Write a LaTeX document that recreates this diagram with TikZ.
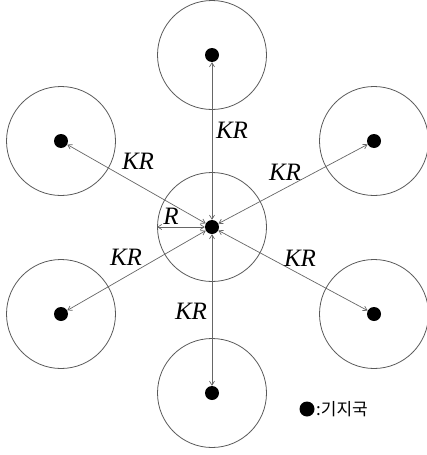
\documentclass[tikz,border=0pt]{standalone}
\usepackage{fontspec}
\setmainfont{Liberation Serif}
\newfontfamily\krfont{Noto Sans CJK KR}
\usetikzlibrary{arrows.meta}
\begin{document}
\begin{tikzpicture}[x=1pt,y=-1pt,
  cell/.style={circle,draw=black!65,line width=0.8pt,minimum size=109pt,inner sep=0pt},
  bs/.style={circle,fill=black,minimum size=14pt,inner sep=0pt},
  link/.style={draw=black!60,line width=0.7pt,{Straight Barb[length=4pt,width=5pt]}-{Straight Barb[length=4pt,width=5pt]}},
  lbl/.style={font=\fontsize{25}{25}\selectfont\itshape,inner sep=0pt}]
\useasboundingbox (0,0) rectangle (427,455);
% cells
\node[cell] (k0) at (212,227) {};
\node[cell] (k1) at (212,55) {};
\node[cell] (k2) at (61,141) {};
\node[cell] (k3) at (374,141) {};
\node[cell] (k4) at (61,314) {};
\node[cell] (k5) at (374,314) {};
\node[cell] (k6) at (212,393) {};
% base stations
\node[bs] (b0) at (212,227) {};
\node[bs] (b1) at (212,55) {};
\node[bs] (b2) at (61,141) {};
\node[bs] (b3) at (374,141) {};
\node[bs] (b4) at (61,314) {};
\node[bs] (b5) at (374,314) {};
\node[bs] (b6) at (212,393) {};
% links
\foreach \i in {1,...,6} \draw[link] (b0) -- (b\i);
\draw[link] (b0) -- (k0.west);
% labels
\node[lbl] (l1) at (232,130) {KR};
\node[lbl] (l2) at (138,161) {KR};
\node[lbl] (l3) at (285,172) {KR};
\node[lbl] (l4) at (126,257) {KR};
\node[lbl] (l5) at (300,258) {KR};
\node[lbl] (l6) at (191,311) {KR};
\node[lbl] (lr) at (171,216) {R};
% legend
\node[bs,minimum size=15pt] (lg) at (307,409) {};
\node[anchor=west,inner sep=0pt,font=\krfont\fontsize{17}{17}\selectfont] (lt) at (316,409) {:기지국};
\end{tikzpicture}
\end{document}
